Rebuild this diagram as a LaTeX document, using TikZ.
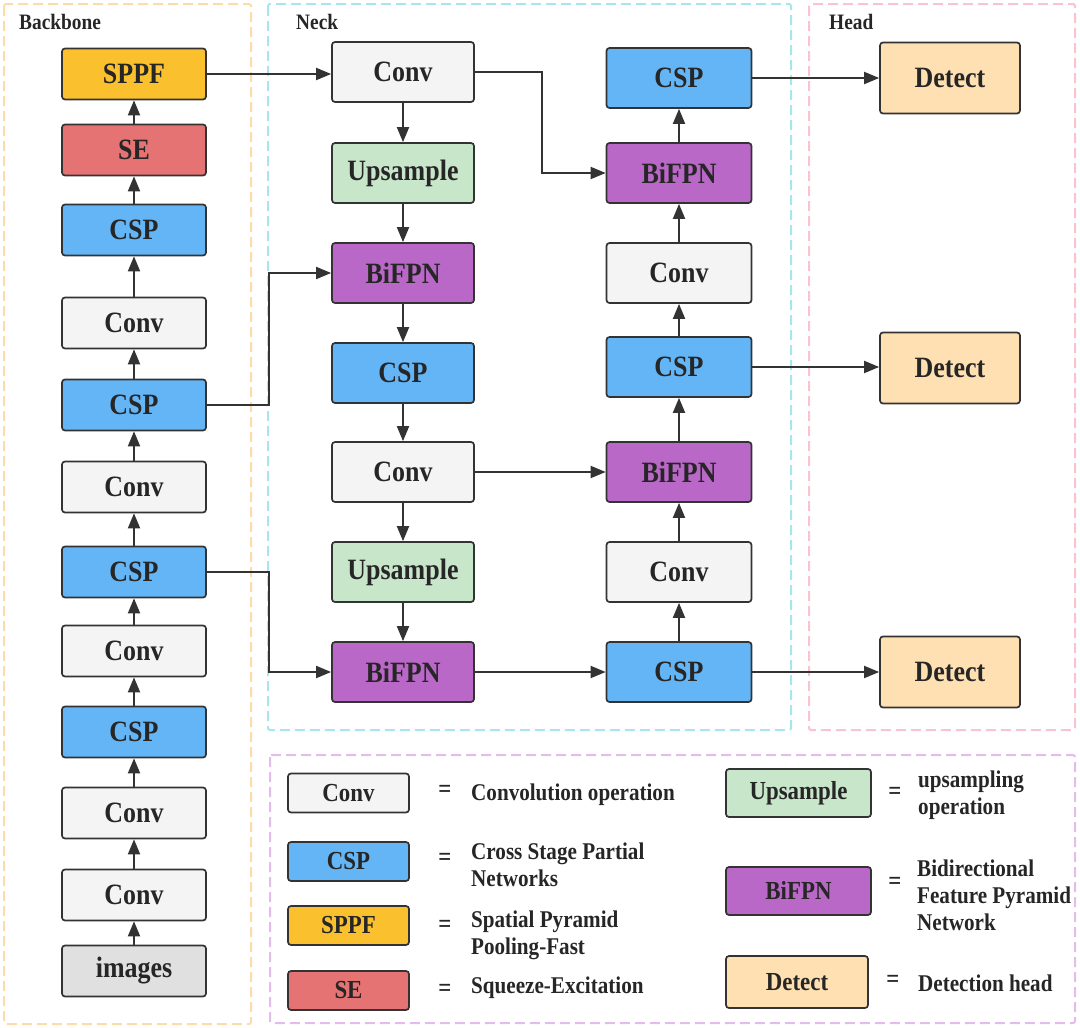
\documentclass[tikz,border=0pt]{standalone}
\usepackage{fontspec}
\setmainfont{Liberation Serif}[FakeStretch=0.88]
\usepackage{tikz}
\usetikzlibrary{positioning,arrows.meta}
\definecolor{linec}{HTML}{333333}
\definecolor{textc}{HTML}{262626}
\definecolor{convfill}{HTML}{F4F4F4}
\definecolor{cspfill}{HTML}{64B5F6}
\definecolor{sppffill}{HTML}{FBC02D}
\definecolor{sefill}{HTML}{E57373}
\definecolor{upfill}{HTML}{C8E6C9}
\definecolor{bifpnfill}{HTML}{BA68C8}
\definecolor{detfill}{HTML}{FFE0B2}
\definecolor{imgfill}{HTML}{E0E0E0}
\definecolor{bbline}{HTML}{FDDCAA}
\definecolor{neckline}{HTML}{A8E6EF}
\definecolor{headline}{HTML}{F9C4CF}
\definecolor{legline}{HTML}{E3BCEC}

\begin{document}
\begin{tikzpicture}[x=1pt, y=-1pt,
    block/.style={draw=linec, line width=1.7pt, rounded corners=3pt, inner sep=0pt,
      text=textc, font=\fontsize{29.5}{32}\selectfont\bfseries},
    bbox/.style={block, minimum width=144pt, minimum height=51pt},
    nbox/.style={block, minimum width=142pt, minimum height=60pt},
    pbox/.style={block, minimum width=145pt, minimum height=60pt},
    dbox/.style={block, fill=detfill, minimum width=140pt, minimum height=71pt},
    lbox/.style={block, font=\fontsize{26}{28}\selectfont\bfseries},
    ltext/.style={anchor=west, align=left, inner sep=0pt, text=textc,
      font=\fontsize{24}{27}\selectfont\bfseries},
    eqsign/.style={inner sep=0pt, text=textc, font=\fontsize{26}{28}\selectfont\bfseries},
    group/.style={line width=2pt, dash pattern=on 10pt off 5pt, rounded corners=2pt},
    title/.style={anchor=west, inner sep=0pt, text=textc,
      font=\fontsize{22}{24}\selectfont\bfseries},
    arrow/.style={-{Triangle[length=15pt,width=12pt]}, line width=1.9pt, draw=linec}
  ]
    \useasboundingbox (0,0) rectangle (1080,1028);

    \draw[group, draw=bbline] (4,4) rectangle (251,1024);
    \draw[group, draw=neckline] (268,4) rectangle (791,730);
    \draw[group, draw=headline] (809,4) rectangle (1075,730);
    \draw[group, draw=legline] (270,755) rectangle (1075,1023);

    \node[title] (tb) at (19,22) {Backbone};
    \node[title] (tn) at (296,22) {Neck};
    \node[title] (th) at (829,22) {Head};

    \node[bbox, fill=imgfill]   (b1)  at (134,971) {images};
    \node[bbox, fill=convfill]  (b2)  at (134,895) {Conv};
    \node[bbox, fill=convfill]  (b3)  at (134,813) {Conv};
    \node[bbox, fill=cspfill]   (b4)  at (134,732) {CSP};
    \node[bbox, fill=convfill]  (b5)  at (134,651) {Conv};
    \node[bbox, fill=cspfill]   (b6)  at (134,572) {CSP};
    \node[bbox, fill=convfill]  (b7)  at (134,487) {Conv};
    \node[bbox, fill=cspfill]   (b8)  at (134,405) {CSP};
    \node[bbox, fill=convfill]  (b9)  at (134,323) {Conv};
    \node[bbox, fill=cspfill]   (b10) at (134,230) {CSP};
    \node[bbox, fill=sefill]    (b11) at (134,150) {SE};
    \node[bbox, fill=sppffill]  (b12) at (134,74)  {SPPF};

    \node[nbox, fill=convfill]  (n1) at (403,72)  {Conv};
    \node[nbox, fill=upfill]    (n2) at (403,173) {Upsample};
    \node[nbox, fill=bifpnfill] (n3) at (403,273) {BiFPN};
    \node[nbox, fill=cspfill]   (n4) at (403,373) {CSP};
    \node[nbox, fill=convfill]  (n5) at (403,472) {Conv};
    \node[nbox, fill=upfill]    (n6) at (403,572) {Upsample};
    \node[nbox, fill=bifpnfill] (n7) at (403,672) {BiFPN};

    \node[pbox, fill=cspfill]   (p1) at (679,78)  {CSP};
    \node[pbox, fill=bifpnfill] (p2) at (679,173) {BiFPN};
    \node[pbox, fill=convfill]  (p3) at (679,273) {Conv};
    \node[pbox, fill=cspfill]   (p4) at (679,367) {CSP};
    \node[pbox, fill=bifpnfill] (p5) at (679,472) {BiFPN};
    \node[pbox, fill=convfill]  (p6) at (679,572) {Conv};
    \node[pbox, fill=cspfill]   (p7) at (679,672) {CSP};

    \node[dbox] (d1) at (950,78)  {Detect};
    \node[dbox] (d2) at (950,368) {Detect};
    \node[dbox] (d3) at (950,672) {Detect};

    \foreach \i [count=\j from 2] in {1,...,11}
      \draw[arrow] (b\i) -- (b\j);
    \foreach \i [count=\j from 2] in {1,...,6}
      \draw[arrow] (n\i) -- (n\j);
    \foreach \i [count=\j from 2] in {1,...,6}
      \draw[arrow] (p\j) -- (p\i);

    \draw[arrow] (b12.east) -- (b12.east -| n1.west);
    \draw[arrow] (b8.east) -- ++(62,0) |- (n3.west);
    \draw[arrow] (b6.east) -- ++(62,0) |- (n7.west);
    \draw[arrow] (n1.east) -- ++(67,0) |- (p2.west);
    \draw[arrow] (n5) -- (p5);
    \draw[arrow] (n7) -- (p7);
    \draw[arrow] (p1) -- (d1);
    \draw[arrow] (p4.east) -- (p4.east -| d2.west);
    \draw[arrow] (p7) -- (d3);

    \node[lbox, fill=convfill, minimum width=121pt, minimum height=39pt] (lconv) at (348.5,793) {Conv};
    \node[lbox, fill=cspfill, minimum width=121pt, minimum height=39pt] (lcsp) at (348.5,861.5) {CSP};
    \node[lbox, fill=sppffill, minimum width=121pt, minimum height=39pt] (lsppf) at (348.5,925.5) {SPPF};
    \node[lbox, fill=sefill, minimum width=121pt, minimum height=39pt] (lse) at (348.5,990.5) {SE};
    \node[lbox, fill=upfill, minimum width=145pt, minimum height=48pt] (lup) at (798.5,793) {Upsample};
    \node[lbox, fill=bifpnfill, minimum width=145pt, minimum height=48pt] (lbifpn) at (798.5,891) {BiFPN};
    \node[lbox, fill=detfill, minimum width=142pt, minimum height=52pt] (ldet) at (797,982) {Detect};

    \node[eqsign] (eq1) at (445,791) {=};
    \node[eqsign] (eq2) at (445,859) {=};
    \node[eqsign] (eq3) at (445,926) {=};
    \node[eqsign] (eq4) at (445,990) {=};
    \node[eqsign] (eq5) at (895,793) {=};
    \node[eqsign] (eq6) at (895,883) {=};
    \node[eqsign] (eq7) at (893,981) {=};

    \node[ltext] (tconv) at (471,795) {Convolution operation};
    \node[ltext] (tcsp) at (471,865) {Cross Stage Partial\\Networks};
    \node[ltext] (tsppf) at (471,935) {Spatial Pyramid\\Pooling-Fast};
    \node[ltext] (tse) at (471,988) {Squeeze-Excitation};
    \node[ltext] (tup) at (918,795) {upsampling\\operation};
    \node[ltext] (tbifpn) at (917,895) {Bidirectional\\Feature Pyramid\\Network};
    \node[ltext] (tdet) at (918,983) {Detection head};
  \end{tikzpicture}
\end{document}
